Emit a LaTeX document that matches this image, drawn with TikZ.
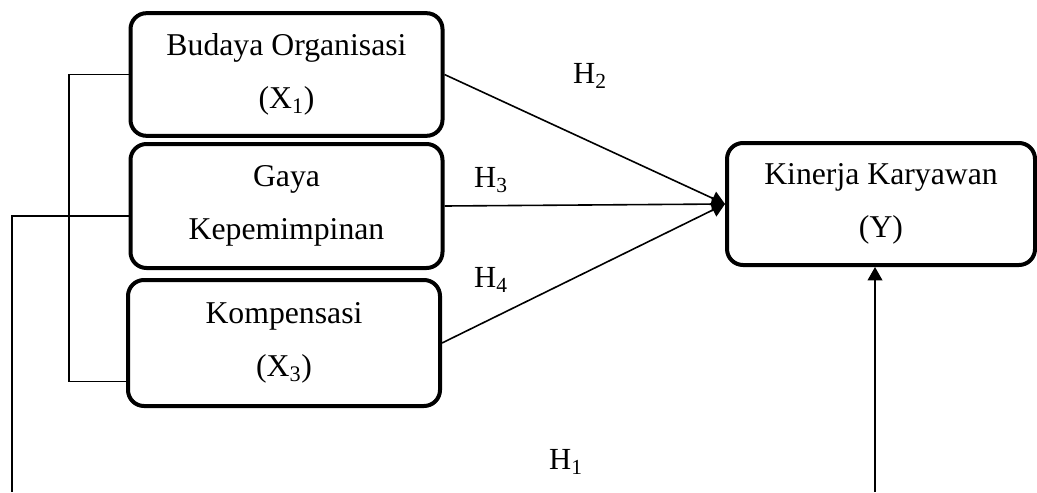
\documentclass[tikz,border=0pt]{standalone}
\usepackage{fontspec}
\setmainfont{Liberation Serif}
\usetikzlibrary{arrows.meta}

\begin{document}
\begin{tikzpicture}[
  x=0.75pt, y=-0.75pt,
  var/.style={draw, line width=3pt, rounded corners=12pt, align=center, inner sep=0pt,
    minimum width=234pt, minimum height=92pt, font=\fontsize{23.8}{40}\selectfont},
  hyp/.style={inner sep=0pt, font=\fontsize{23}{28}\selectfont},
  link/.style={draw, line width=1.2pt},
  arr/.style={link, -{Triangle[length=10pt, width=11pt]}}
]
\useasboundingbox (0,0) rectangle (1037,492);
% Left: independent variables
\node[var] (x1) at (286.5, 74.5) {Budaya Organisasi\\(X\textsubscript{1})};
\node[var, minimum height=93pt] (x2) at (286.5, 206) {Gaya\\Kepemimpinan};
\node[var, minimum height=94.5pt] (x3) at (284, 343) {Kompensasi\\(X\textsubscript{3})};

% Right: dependent variable
\node[var, minimum width=231pt, minimum height=91.5pt] (y) at (881, 204) {Kinerja Karyawan\\(Y)};

% Partial effects
\draw[arr] (x1.east) -- (y.west);
\draw[arr] (x2.east) -- (y.west);
\draw[arr] (x3.east) -- (y.west);
\node[hyp] (h2) at (590, 76) {H\textsubscript{2}};
\node[hyp] (h3) at (491, 180) {H\textsubscript{3}};
\node[hyp] (h4) at (491, 280) {H\textsubscript{4}};

% Bracket and simultaneous effect
\coordinate (spine) at (69, 0);
\coordinate (t2) at ([yshift=-7.5pt]x2.west);
\coordinate (t3) at ([yshift=-29pt]x3.west);
\coordinate (h1a) at (12, 492);
\coordinate (h1b) at (875, 492);
\draw[link] (x1.west) -| (t3 -| spine) -- (t3);
\draw[link] (t2) -| (h1a);
\draw[arr] (h1b) -- (h1b |- y.south);
\node[hyp] (h1) at (566, 462) {H\textsubscript{1}};
\end{tikzpicture}
\end{document}
